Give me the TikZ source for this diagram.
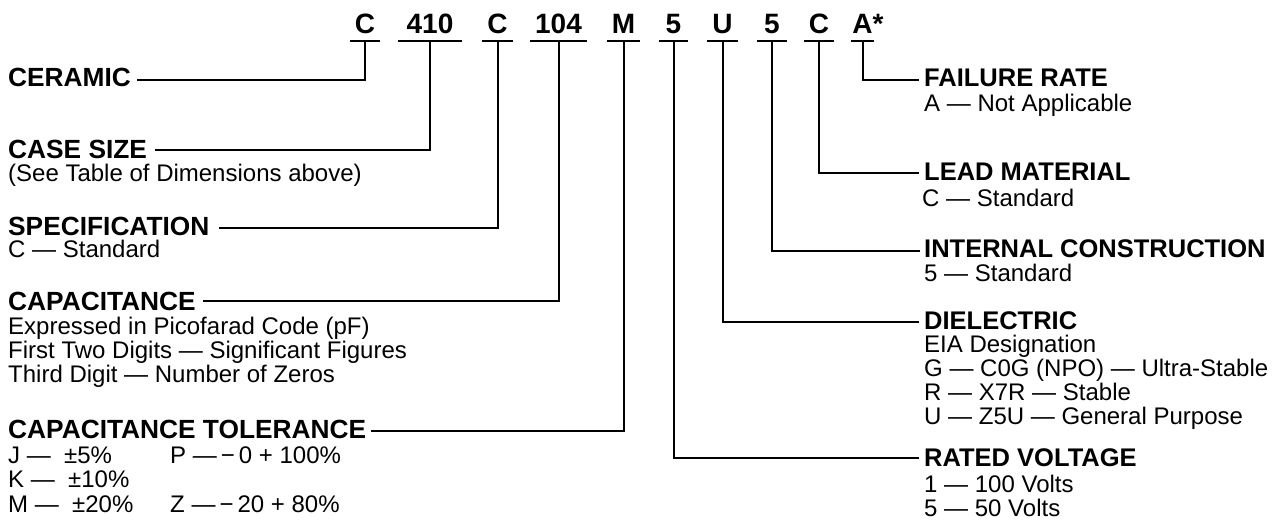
\documentclass[tikz,border=0pt]{standalone}
\usepackage{fontspec}
\setmainfont{Liberation Sans}
\begin{document}
\begin{tikzpicture}[x=1pt,y=-1pt,
  lbl/.style={font=\fontsize{25.5}{28}\selectfont\bfseries, inner sep=0pt, anchor=base west},
  llbl/.style={lbl, font=\fontsize{26.3}{28}\selectfont\bfseries},
  sub/.style={font=\fontsize{24}{24}\selectfont, inner sep=0pt, anchor=base west},
  code/.style={font=\fontsize{28}{30}\selectfont\bfseries, inner xsep=5pt, inner ysep=0pt, anchor=base, minimum width=29pt},
  wire/.style={line width=2pt},
]
\path[use as bounding box] (0,0) rectangle (1281,524);

% code letters
\node[code] (c1) at (365,34) {C};
\node[code, minimum width=64pt] (c2) at (430,34) {410};
\node[code] (c3) at (497.5,34) {C};
\node[code] (c4) at (558.5,34) {104};
\node[code] (c5) at (623.5,34) {M};
\node[code] (c6) at (673.5,34) {5};
\node[code] (c7) at (722.5,34) {U};
\node[code] (c8) at (772,34) {5};
\node[code] (c9) at (819,34) {C};
\node[code, minimum width=23pt, inner xsep=0pt] (c10) at (862.5,34) {A\rlap{*}};

\foreach \c in {c1,c2,c3,c4,c5,c6,c7,c8,c9,c10}
  \draw[wire] ([yshift=-7pt]\c.base west) -- ([yshift=-7pt]\c.base east);

% left labels
\node[llbl] (ceramic) at (8,86.7) {CERAMIC};
\node[llbl] (casesize) at (8,158) {CASE SIZE};
\node[sub] (casesub) at (8,181) {(See Table of Dimensions above)};
\node[llbl] (spec) at (8,235) {SPECIFICATION};
\node[sub] (specsub) at (8,257.5) {C — Standard};
\node[llbl] (cap) at (8,310.7) {CAPACITANCE};
\node[sub] (capa) at (8,334) {Expressed in Picofarad Code (pF)};
\node[sub] (capb) at (8,358) {First Two Digits — Significant Figures};
\node[sub] (capc) at (8,382) {Third Digit — Number of Zeros};
\node[llbl] (captol) at (8,438.5) {CAPACITANCE TOLERANCE};
\node[sub] (tolj) at (8,463) {J — \ ±5\%};
\node[sub] (tolk) at (8,487) {K — \ ±10\%};
\node[sub] (tolm) at (8,512) {M — \ ±20\%};
\node[sub] (tolp) at (170,463) {P —\,−\,0 + 100\%};
\node[sub] (tolz) at (170,512) {Z —\,−\,20 + 80\%};

% right labels
\node[lbl] (fail) at (924,86.7) {FAILURE RATE};
\node[sub] (failsub) at (924,111.7) {A — Not Applicable};
\node[lbl] (lead) at (924,180.7) {LEAD MATERIAL};
\node[sub] (leadsub) at (922,206) {C — Standard};
\node[lbl] (intc) at (924,257) {INTERNAL CONSTRUCTION};
\node[sub] (intsub) at (924,281.7) {5 — Standard};
\node[lbl] (diel) at (924,329.5) {DIELECTRIC};
\node[sub] (diela) at (924,352) {EIA Designation};
\node[sub] (dielb) at (924,376) {G — C0G (NPO) — Ultra-Stable};
\node[sub] (dielc) at (924,400) {R — X7R — Stable};
\node[sub] (dield) at (924,424) {U — Z5U — General Purpose};
\node[lbl] (rated) at (924,466.5) {RATED VOLTAGE};
\node[sub] (rateda) at (924,492) {1 — 100 Volts};
\node[sub] (ratedb) at (924,516) {5 — 50 Volts};

% connectors left
\draw[wire] ([yshift=-7pt]c1.base) |- ([xshift=6pt,yshift=7pt]ceramic.base east);
\draw[wire] ([yshift=-7pt]c2.base) |- ([xshift=8pt,yshift=8pt]casesize.base east);
\draw[wire] ([yshift=-7pt]c3.base) |- ([xshift=9pt,yshift=7pt]spec.base east);
\draw[wire] ([yshift=-7pt]c4.base) |- ([xshift=7pt,yshift=10pt]cap.base east);
\draw[wire] ([yshift=-7pt]c5.base) |- ([xshift=5pt,yshift=8pt]captol.base east);

% connectors right
\draw[wire] ([yshift=-7pt]c10.base) |- ([xshift=-5pt,yshift=7pt]fail.base west);
\draw[wire] ([yshift=-7pt]c9.base) |- ([xshift=-5pt,yshift=8pt]lead.base west);
\draw[wire] ([yshift=-7pt]c8.base) |- ([xshift=-4pt,yshift=6pt]intc.base west);
\draw[wire] ([yshift=-7pt]c7.base) |- ([xshift=-5pt,yshift=8pt]diel.base west);
\draw[wire] ([yshift=-7pt]c6.base) |- ([xshift=-5pt,yshift=9pt]rated.base west);
\end{tikzpicture}
\end{document}
